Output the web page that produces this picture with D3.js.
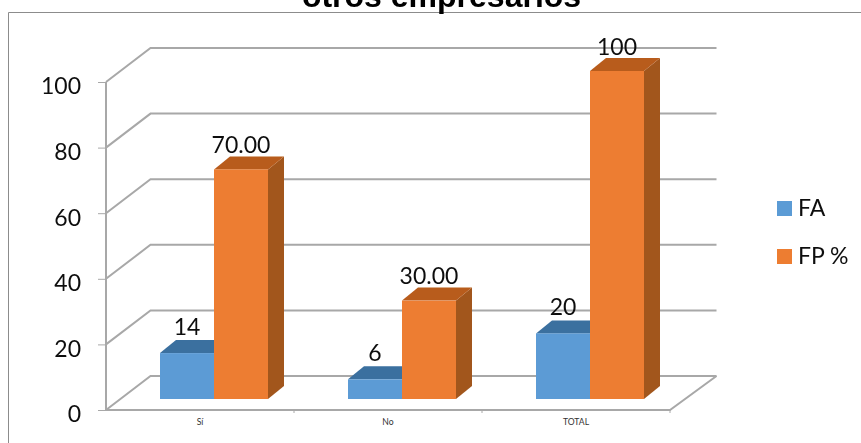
<!DOCTYPE html>
<html><head><meta charset="utf-8">
<script src="https://cdn.jsdelivr.net/npm/d3@7/dist/d3.min.js"></script>
<style>html,body{margin:0;padding:0;background:#fff}svg{display:block}</style>
</head><body><svg id="c" width="861" height="443"></svg>
<script>
const categories = ["Sí", "No", "TOTAL"];
const seriesNames = ["FA", "FP %"];
const faValues = [14, 6, 20];
const fpValues = [70, 30, 100];
const faLabels = ["14", "6", "20"];
const fpLabels = ["70.00", "30.00", "100"];
const yTicks = [0, 20, 40, 60, 80, 100];
const titleText = "otros empresarios";

const svg = d3.select("#c");
const defs = svg.append("defs");
function blur(id, sd){
  defs.append("filter").attr("id",id).attr("x","-5%").attr("y","-5%").attr("width","110%").attr("height","110%")
    .append("feGaussianBlur").attr("stdDeviation",sd);
}
blur("soft",0.55); blur("softText",0.35);

const colors = {
  "FA": {front:"#5b9bd5", top:"#3a6f9f", side:"#41719c"},
  "FP %": {front:"#ed7d31", top:"#b85c1c", side:"#a2561f"}
};
const DX = 44.5, DY = -34;     // wall depth
const BDX = 16, BDY = -13;     // bar depth
const y = d3.scaleLinear().domain([0,100]).range([410,82]);
const yBar = d3.scaleLinear().domain([0,100]).range([399,71]);
const x0 = d3.scaleBand().domain(categories).range([106,670]);
const x1 = d3.scaleBand().domain(seriesNames).range([54,162]);

// frame
svg.append("path").attr("d","M8.5,443V12.5H861").attr("fill","none").attr("stroke","#8c8c8c").attr("stroke-width",1);

// title
svg.append("text").text(titleText).attr("x",441.5).attr("y",7)
  .attr("text-anchor","middle").attr("font-family","Liberation Sans").attr("font-weight","bold")
  .attr("font-size",32).attr("fill","#000").attr("filter","url(#softText)");

const plot = svg.append("g").attr("filter","url(#soft)");
const [x0a,x0b] = x0.range();

// gridlines
yTicks.forEach(t=>{
  const yy = y(t);
  plot.append("path")
    .attr("d", `M${x0a},${yy}L${x0a+DX},${yy+DY}H${x0b+DX+2}`)
    .attr("fill","none").attr("stroke","#a8a8a8").attr("stroke-width",2);
});
// floor front and right edge, left axis
plot.append("path").attr("d",`M${x0b+DX+2},${y(0)+DY}L${x0b},${y(0)}H${x0a}`)
  .attr("fill","none").attr("stroke","#a8a8a8").attr("stroke-width",2);
plot.append("path").attr("d",`M${x0a},${y(100)}V${y(0)}`)
  .attr("fill","none").attr("stroke","#a8a8a8").attr("stroke-width",2);

// axes via d3
const labels = svg.append("g").attr("filter","url(#softText)");
const yAxis = d3.axisLeft(y).tickValues(yTicks).tickSize(8).tickPadding(17);
const gy = svg.append("g").attr("transform",`translate(${x0a},0)`).call(yAxis);
gy.select(".domain").remove();
gy.selectAll("line").attr("stroke","#a8a8a8").attr("stroke-width",1);
gy.selectAll("text").attr("font-family","Lato").attr("font-size",23).attr("fill","#111")
  .attr("dy","0.32em").attr("transform","translate(0,4.5)").attr("filter","url(#softText)");

const xAxis = d3.axisBottom(x0).tickSize(3).tickPadding(6).tickSizeOuter(0);
const gx = svg.append("g").attr("transform",`translate(0,${y(0)})`).call(xAxis);
gx.select(".domain").remove();
gx.selectAll(".tick line").remove();
categories.forEach(c=>{
  gx.append("line").attr("x1",x0(c)+x0.bandwidth()).attr("x2",x0(c)+x0.bandwidth()).attr("y1",0).attr("y2",3).attr("stroke","#a8a8a8");
});
gx.selectAll(".tick text").attr("font-family","Lato").attr("font-size",8.6).attr("fill","#333").attr("dy","0.71em").attr("y",9);

// bars
const series = [{name:seriesNames[0],vals:faValues,labs:faLabels,gap:18},{name:seriesNames[1],vals:fpValues,labs:fpLabels,gap:16.5}];
const w = x1.bandwidth();
series.forEach(s=>{
  const col = colors[s.name];
  categories.forEach((c,i)=>{
    const bx = x0(c)+x1(s.name), top = yBar(s.vals[i]), base = yBar(0);
    const g = plot.append("g");
    g.append("path").attr("fill",col.side)
      .attr("d",`M${bx+w},${top}L${bx+w+BDX},${top+BDY}V${base+BDY}L${bx+w},${base}Z`);
    g.append("path").attr("fill",col.top)
      .attr("d",`M${bx},${top}L${bx+BDX},${top+BDY}H${bx+w+BDX}L${bx+w},${top}Z`);
    g.append("rect").attr("x",bx).attr("y",top).attr("width",w).attr("height",base-top).attr("fill",col.front);
  });
});
// data labels
const dataLabels = svg.append("g").attr("filter","url(#softText)");
series.forEach(s=>{
  categories.forEach((c,i)=>{
    dataLabels.append("text").text(s.labs[i])
      .attr("x",x0(c)+x1(s.name)+w/2)
      .attr("y",yBar(s.vals[i])-s.gap)
      .attr("text-anchor","middle").attr("font-family","Lato").attr("font-size",23).attr("fill","#111");
  });
});
// legend
const ly = d3.scalePoint().domain(seriesNames).range([208.5,256.5]);
seriesNames.forEach(n=>{
  svg.append("rect").attr("x",777).attr("y",ly(n)-7.5).attr("width",15).attr("height",15).attr("fill",colors[n].front);
  svg.append("text").text(n).attr("x",798).attr("y",ly(n)+7).attr("font-family","Lato").attr("font-size",23).attr("fill","#111").attr("filter","url(#softText)");
});
</script></body></html>
